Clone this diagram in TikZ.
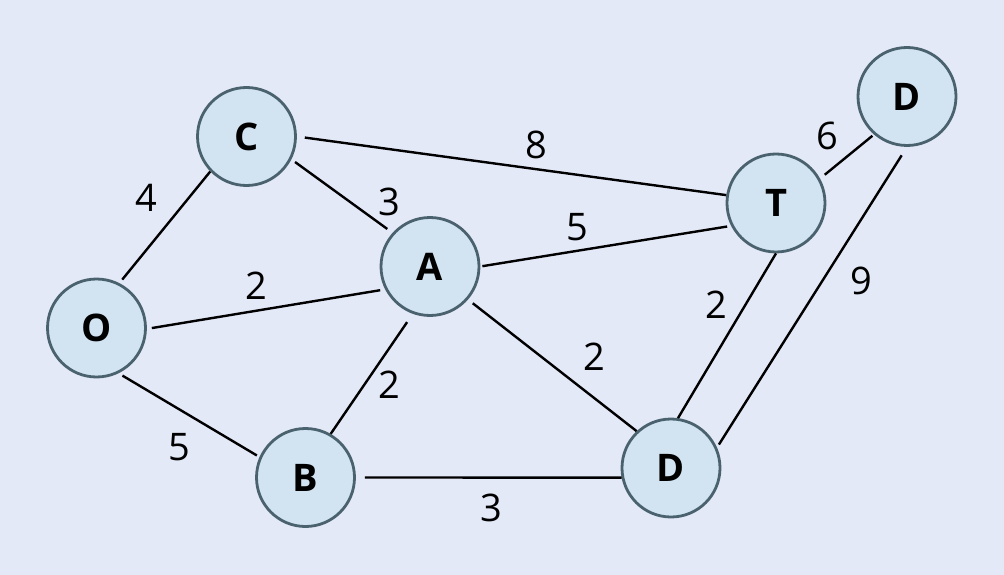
\documentclass[tikz,border=0pt]{standalone}
\usepackage{fontspec}
\setmainfont{Open Sans}
\definecolor{bgc}{RGB}{228,233,248}
\definecolor{nodefill}{RGB}{210,227,242}
\definecolor{nodeline}{RGB}{74,98,110}
\begin{document}
\begin{tikzpicture}[x=1pt,y=1pt,
  vert/.style={circle,draw=nodeline,fill=nodefill,line width=2.8pt,minimum size=98pt,inner sep=0pt,font=\fontsize{38}{44}\selectfont\bfseries},
  edge/.style={line width=2.4pt,black},
  wlab/.style={font=\fontsize{38}{44}\selectfont,inner sep=0pt}]
\fill[bgc] (0,0) rectangle (1004,-575);
\useasboundingbox (0,0) rectangle (1004,-575);
\node[vert] (C) at (246.5,-136.5) {C};
\node[vert] (O) at (96.5,-328) {O};
\node[vert] (A) at (430,-266.5) {A};
\node[vert] (B) at (305.5,-477.5) {B};
\node[vert] (D) at (671,-468) {D};
\node[vert] (T) at (776,-203) {T};
\node[vert] (E) at (907,-96.5) {D};
% edges
\draw[edge,shorten <=4.5pt] (O.63) -- (C.224);
\draw[edge,shorten <=5pt,shorten >=5pt] (O.-1) -- (A.207);
\draw[edge,shorten <=4.5pt,shorten >=3pt] (O.-64) -- (B.156.5);
\draw[edge,shorten <=8pt] (C.0) -- (T.171);
\draw[edge,shorten <=4.5pt,shorten >=6.5pt] (C.-27) -- (A.138);
\draw[edge,shorten <=2pt,shorten >=4pt] (A.0) -- (T.207);
\draw[edge,shorten <=10pt] (A.250) -- (B.60);
\draw[edge,shorten <=6pt] (A.-41) -- (D.133);
\draw[edge,shorten <=9pt] (B.-0.5) -- (D.191.5);
\draw[edge] (T.-90) -- (D.82);
\draw[edge,shorten <=10pt,shorten >=3.5pt] (E.-90) -- (D.24);
\draw[edge,shorten <=6pt,shorten >=2pt] (T.29) -- (E.229);
% weights
\node[wlab] (w1) at (146,-198) {4};
\node[wlab] (w2) at (256,-286) {2};
\node[wlab] (w3) at (179,-447) {5};
\node[wlab] (w4) at (389,-202) {3};
\node[wlab] (w5) at (536,-145) {8};
\node[wlab] (w6) at (577,-227) {5};
\node[wlab] (w7) at (389,-385) {2};
\node[wlab] (w8) at (594,-357) {2};
\node[wlab] (w9) at (491,-508) {3};
\node[wlab] (w10) at (716,-305) {2};
\node[wlab] (w11) at (861,-281) {9};
\node[wlab] (w12) at (827,-136) {6};
\end{tikzpicture}
\end{document}
